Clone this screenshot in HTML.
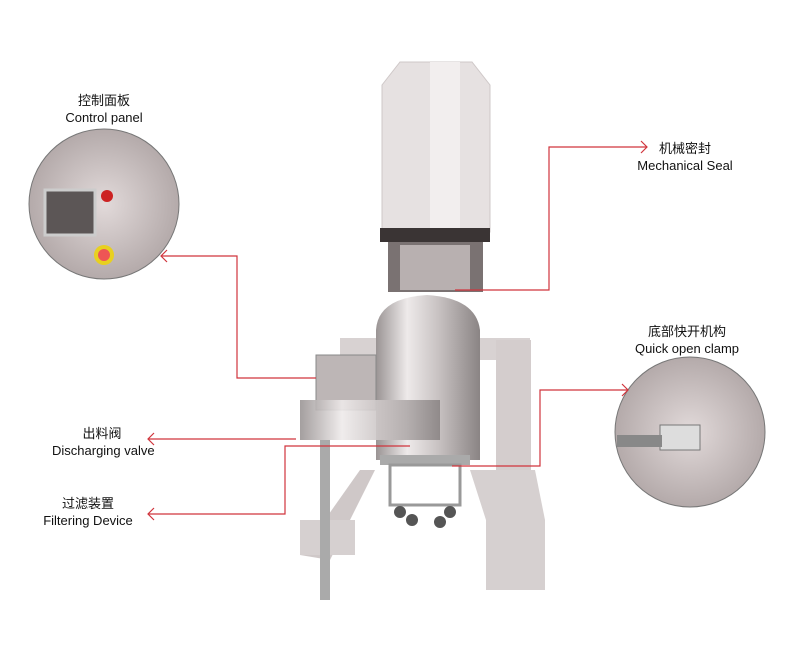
<!DOCTYPE html>
<html><head><meta charset="utf-8"><style>
body{margin:0;background:#fff;width:800px;height:646px;overflow:hidden;position:relative;font-family:"Liberation Sans","Noto Sans CJK SC",sans-serif;}
.t{position:absolute;font-size:13px;color:#111;text-align:center;line-height:17px;white-space:nowrap}
</style></head><body>
<svg width="800" height="646" style="position:absolute;left:0;top:0">
<defs>
<linearGradient id="st" x1="0" x2="1"><stop offset="0" stop-color="#9a9494"/><stop offset=".3" stop-color="#eeeaea"/><stop offset=".6" stop-color="#c8c2c2"/><stop offset="1" stop-color="#8a8484"/></linearGradient>
<radialGradient id="c1"><stop offset="0" stop-color="#e2dada"/><stop offset="1" stop-color="#b4aaaa"/></radialGradient>
</defs>
<!-- tower -->
<polygon points="382,85 400,62 472,62 490,85 490,232 382,232" fill="#e6e1e1" stroke="#cfc8c8"/>
<rect x="430" y="62" width="30" height="170" fill="#f2eeee"/>
<!-- head -->
<rect x="380" y="228" width="110" height="14" fill="#3a3434"/>
<rect x="388" y="242" width="95" height="50" fill="#7a7272"/>
<rect x="400" y="245" width="70" height="45" fill="#b8b0b0"/>
<!-- frame -->
<rect x="340" y="338" width="190" height="22" fill="#d8d2d2"/>
<rect x="496" y="340" width="35" height="130" fill="#d4cdcd"/>
<polygon points="470,470 535,470 545,520 545,590 486,590 486,520" fill="#d6d0d0"/>
<polygon points="300,555 360,470 375,470 330,560 330,560" fill="#cfc8c8"/>
<rect x="300" y="520" width="55" height="35" fill="#d6d0d0"/>
<rect x="320" y="440" width="10" height="160" fill="#aaa"/>
<!-- vessel -->
<path d="M376,330 Q378,298 427,295 Q476,298 480,330 L480,460 L376,460 Z" fill="url(#st)"/>
<rect x="316" y="355" width="60" height="55" fill="#bdb6b6" stroke="#888"/>
<rect x="300" y="400" width="140" height="40" fill="url(#st)" opacity=".9"/>
<rect x="380" y="455" width="90" height="10" fill="#aaa"/>
<!-- cart -->
<rect x="390" y="465" width="70" height="40" fill="none" stroke="#999" stroke-width="3"/>
<circle cx="400" cy="512" r="6" fill="#555"/><circle cx="450" cy="512" r="6" fill="#555"/><circle cx="412" cy="520" r="6" fill="#555"/><circle cx="440" cy="522" r="6" fill="#555"/>
<!-- circles -->
<circle cx="104" cy="204" r="75" fill="url(#c1)" stroke="#777"/>
<rect x="45" y="190" width="50" height="45" fill="#5c5656" stroke="#ccc" stroke-width="3"/>
<circle cx="107" cy="196" r="6" fill="#c22"/><circle cx="104" cy="255" r="10" fill="#e8d020"/><circle cx="104" cy="255" r="6" fill="#e55"/>
<circle cx="690" cy="432" r="75" fill="url(#c1)" stroke="#777"/>
<rect x="660" y="425" width="40" height="25" fill="#ddd" stroke="#777"/>
<rect x="617" y="435" width="45" height="12" fill="#888"/>
<!-- connectors -->
<g fill="none" stroke="#d0343c" stroke-width="1.2">
<polyline points="161,256 237,256 237,378 316,378"/>
<polyline points="167,250 161,256 167,262"/>
<polyline points="148,439 296,439"/>
<polyline points="154,433 148,439 154,445"/>
<polyline points="148,514 285,514 285,446 410,446"/>
<polyline points="154,508 148,514 154,520"/>
<polyline points="455,290 549,290 549,147 647,147"/>
<polyline points="641,141 647,147 641,153"/>
<polyline points="452,466 540,466 540,390 628,390"/>
<polyline points="622,384 628,390 622,396"/>
</g>
</svg>
<div class="t" style="left:54px;top:92px;width:100px">控制面板<br>Control panel</div>
<div class="t" style="left:52px;top:425px;width:100px">出料阀<br>Discharging valve</div>
<div class="t" style="left:38px;top:495px;width:100px">过滤装置<br>Filtering Device</div>
<div class="t" style="left:630px;top:140px;width:110px">机械密封<br>Mechanical Seal</div>
<div class="t" style="left:627px;top:323px;width:120px">底部快开机构<br>Quick open clamp</div>
</body></html>
